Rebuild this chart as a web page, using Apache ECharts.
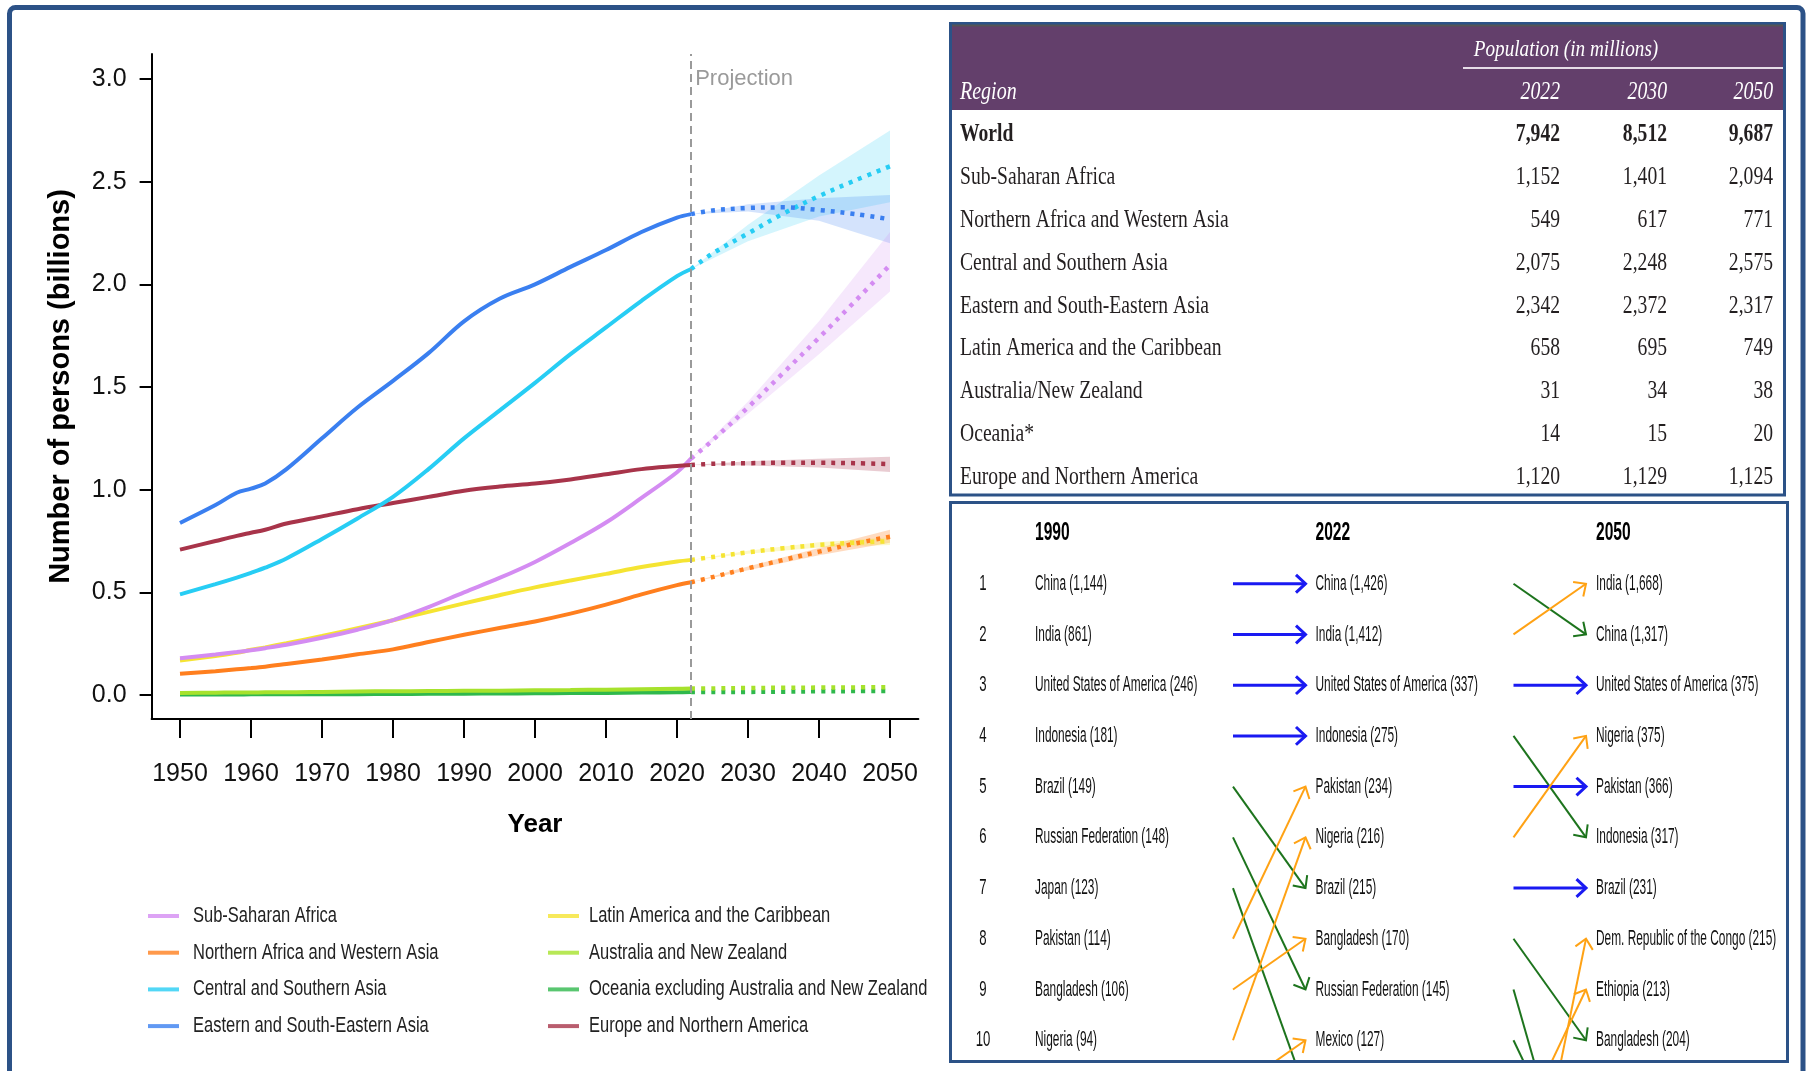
<!DOCTYPE html>
<html><head><meta charset="utf-8">
<script src="https://cdn.jsdelivr.net/npm/echarts@6/dist/echarts.min.js"></script>
<style>html,body{margin:0;padding:0;background:#fff}#c{width:1808px;height:1071px}</style>
</head><body><div id="c"></div>
<script>
// ---------------- Line chart data (billions) ----------------
const histYears = [1950,1955,1958,1960,1962,1965,1970,1975,1980,1985,1990,1995,2000,2005,2010,2015,2020,2022];
const projYears = [2022,2025,2030,2035,2040,2045,2050];
const bandYears = [2022,2030,2040,2050];
const xTicks = [1950,1960,1970,1980,1990,2000,2010,2020,2030,2040,2050];
const yTicks = [0,0.5,1,1.5,2,2.5,3];

const regionNames = ['Sub-Saharan Africa','Northern Africa and Western Asia','Central and Southern Asia','Eastern and South-Eastern Asia','Latin America and the Caribbean','Australia and New Zealand','Oceania excluding Australia and New Zealand','Europe and Northern America'];

const ssaHist  = [0.179,0.197,0.209,0.218,0.228,0.245,0.279,0.318,0.365,0.428,0.500,0.570,0.648,0.740,0.840,0.960,1.085,1.152];
const nawaHist = [0.103,0.116,0.125,0.131,0.138,0.151,0.173,0.198,0.222,0.258,0.293,0.326,0.358,0.396,0.440,0.490,0.535,0.549];
const csaHist  = [0.490,0.540,0.572,0.595,0.620,0.665,0.760,0.860,0.965,1.100,1.250,1.385,1.520,1.660,1.790,1.920,2.040,2.075];
const eseaHist = [0.838,0.925,0.985,1.005,1.030,1.100,1.250,1.400,1.530,1.665,1.820,1.930,2.000,2.085,2.167,2.255,2.325,2.342];
const lacHist  = [0.168,0.190,0.205,0.220,0.232,0.252,0.287,0.325,0.364,0.405,0.446,0.486,0.524,0.558,0.590,0.623,0.650,0.658];
const anzHist  = [0.010,0.011,0.012,0.012,0.013,0.013,0.015,0.017,0.018,0.019,0.020,0.021,0.023,0.024,0.026,0.028,0.030,0.031];
const oceHist  = [0.0023,0.0026,0.0028,0.0030,0.0032,0.0034,0.0036,0.0040,0.0047,0.0055,0.0065,0.0073,0.0081,0.0091,0.0101,0.0115,0.0131,0.014];
const enaHist  = [0.708,0.750,0.775,0.790,0.805,0.835,0.870,0.905,0.935,0.965,0.995,1.015,1.030,1.050,1.075,1.100,1.115,1.120];

const ssaProj  = [1.152,1.240,1.401,1.570,1.740,1.915,2.094];
const nawaProj = [0.549,0.574,0.617,0.658,0.698,0.737,0.771];
const csaProj  = [2.075,2.150,2.248,2.345,2.430,2.505,2.575];
const eseaProj = [2.342,2.360,2.372,2.375,2.362,2.343,2.317];
const lacProj  = [0.658,0.672,0.695,0.715,0.731,0.742,0.749];
const anzProj  = [0.031,0.032,0.034,0.035,0.036,0.037,0.038];
const oceProj  = [0.014,0.0145,0.015,0.016,0.018,0.019,0.020];
const enaProj  = [1.120,1.126,1.129,1.131,1.131,1.129,1.125];

// 95% projection intervals (lower / upper)
const ssaLo  = [1.152,1.370,1.660,1.965];  const ssaHi  = [1.152,1.430,1.820,2.255];
const nawaLo = [0.549,0.608,0.680,0.742];  const nawaHi = [0.549,0.626,0.716,0.805];
const csaLo  = [2.075,2.210,2.330,2.400];  const csaHi  = [2.075,2.290,2.530,2.750];
const eseaLo = [2.342,2.355,2.310,2.200];  const eseaHi = [2.342,2.390,2.420,2.435];
const lacLo  = [0.658,0.688,0.718,0.730];  const lacHi  = [0.658,0.702,0.744,0.768];
const enaLo  = [1.120,1.118,1.108,1.086];  const enaHi  = [1.120,1.138,1.150,1.160];

// ---------------- Table data (millions) ----------------
const tableRegions = ['World','Sub-Saharan Africa','Northern Africa and Western Asia','Central and Southern Asia','Eastern and South-Eastern Asia','Latin America and the Caribbean','Australia/New Zealand','Oceania*','Europe and Northern America'];
const tableYears = ['2022','2030','2050'];
const pop2022 = [7942,1152,549,2075,2342,658,31,14,1120];
const pop2030 = [8512,1401,617,2248,2372,695,34,15,1129];
const pop2050 = [9687,2094,771,2575,2317,749,38,20,1125];

// ---------------- Ranking data ----------------
const rankHeaders = ['1990','2022','2050'];
const rankNumbers = [1,2,3,4,5,6,7,8,9,10];
const rank1990 = ['China (1,144)','India (861)','United States of America (246)','Indonesia (181)','Brazil (149)','Russian Federation (148)','Japan (123)','Pakistan (114)','Bangladesh (106)','Nigeria (94)'];
const rank2022 = ['China (1,426)','India (1,412)','United States of America (337)','Indonesia (275)','Pakistan (234)','Nigeria (216)','Brazil (215)','Bangladesh (170)','Russian Federation (145)','Mexico (127)'];
const rank2050 = ['India (1,668)','China (1,317)','United States of America (375)','Nigeria (375)','Pakistan (366)','Indonesia (317)','Brazil (231)','Dem. Republic of the Congo (215)','Ethiopia (213)','Bangladesh (204)'];
// [rank in earlier year, rank in later year]
const moves1990to2022 = [[1,1],[2,2],[3,3],[4,4],[5,7],[6,9],[7,11],[8,5],[9,8],[10,6],[11,10]];
const moves2022to2050 = [[1,2],[2,1],[3,3],[4,6],[5,5],[6,4],[7,7],[8,10],[9,14],[10,13],[15,8],[12,9]];

// ---------------- Styles ----------------
const regionColors = ['#d48cf2','#ff7f1e','#27cdf4','#3a7ff0','#f5e432','#a6e22c','#2fb84c','#a8344a'];
const SANS = "'Liberation Sans', Arial, sans-serif";
const SERIF = "'Liberation Serif', 'Times New Roman', serif";
const FRAME = '#2c5287';
function rgba(hex, a){
  const n = parseInt(hex.slice(1),16);
  return 'rgba('+((n>>16)&255)+','+((n>>8)&255)+','+(n&255)+','+a+')';
}

const histVals = [ssaHist,nawaHist,csaHist,eseaHist,lacHist,anzHist,oceHist,enaHist];
const projVals = [ssaProj,nawaProj,csaProj,eseaProj,lacProj,anzProj,oceProj,enaProj];
const bands = [
  {idx:2, lo:csaLo,  hi:csaHi,  op:0.2},
  {idx:3, lo:eseaLo, hi:eseaHi, op:0.22},
  {idx:0, lo:ssaLo,  hi:ssaHi,  op:0.2},
  {idx:7, lo:enaLo,  hi:enaHi,  op:0.25},
  {idx:1, lo:nawaLo, hi:nawaHi, op:0.28},
  {idx:4, lo:lacLo,  hi:lacHi,  op:0.25}
];

const series = [];
bands.forEach((b, k) => {
  series.push({type:'custom', name:'band-'+k, coordinateSystem:'cartesian2d', xAxisIndex:0, yAxisIndex:0,
    silent:true, z:1, clip:true,
    data: bandYears.map((y,i)=>[y, b.lo[i], b.hi[i]]),
    renderItem:(params, api) => {
      if (params.dataIndex !== 0) return null;
      const up = bandYears.map((y,i)=>api.coord([y, b.hi[i]]));
      const dn = bandYears.map((y,i)=>api.coord([y, b.lo[i]])).reverse();
      return {type:'polygon', shape:{points: up.concat(dn)}, style:{fill: rgba(regionColors[b.idx], b.op)}};
    }});
});
const drawOrder = [6,5,1,4,0,7,2,3];
drawOrder.forEach(i => {
  series.push({type:'line', name:regionNames[i], color:regionColors[i], symbol:'none', smooth:0.35, z:3,
    data: histYears.map((y,j)=>[y,histVals[i][j]]),
    lineStyle:{color:regionColors[i], width:4}, xAxisIndex:0, yAxisIndex:0});
});
drawOrder.forEach(i => {
  series.push({type:'line', name:regionNames[i], color:regionColors[i], symbol:'none', smooth:0.35, z:3,
    data: projYears.map((y,j)=>[y,projVals[i][j]]),
    lineStyle:{color:regionColors[i], width:4.5, type:[4,6], cap:'butt'}, xAxisIndex:0, yAxisIndex:0});
});
// projection divider + label
series.push({type:'line', name:'proj-marker', data:[], xAxisIndex:0, yAxisIndex:0, silent:true,
  markLine:{silent:true, symbol:['none','none'], label:{show:false},
    lineStyle:{color:'#9a9a9a', width:2, type:[8,5]}, data:[{xAxis:2022}]},
  markPoint:{silent:true, symbol:'circle', symbolSize:0,
    label:{show:true, position:'right', distance:4, formatter:'Projection', color:'#9a9a9a', fontSize:22, fontFamily:SANS},
    data:[{coord:[2022,3.0]}]}
});

// ---------- ranking (custom series on hidden grid) ----------
const rankCols = [rank1990, rank2022, rank2050];
const nameItems = [];
rankCols.forEach((col,c) => col.forEach((t,r) => nameItems.push({c, r:r+1, t})));
function txtStyle(text, font, fill, align){
  return {text, font, fill, align, textAlign:align, verticalAlign:'middle', textVerticalAlign:'middle'};
}
series.push({type:'custom', name:'rank-names', coordinateSystem:'cartesian2d', xAxisIndex:1, yAxisIndex:1, silent:true, z:5,
  data: nameItems.map(d=>[d.c,d.r]),
  renderItem:(params, api) => {
    const p = api.coord([api.value(0), api.value(1)]);
    return {type:'text', x:p[0], y:p[1], scaleX:0.54,
      style:txtStyle(nameItems[params.dataIndex].t, "22px "+SANS, '#111', 'left')};
  }});
series.push({type:'custom', name:'rank-headers', coordinateSystem:'cartesian2d', xAxisIndex:1, yAxisIndex:1, silent:true, z:5,
  data: rankHeaders.map((h,c)=>[c,0]),
  renderItem:(params, api) => {
    const p = api.coord([api.value(0), api.value(1)]);
    return {type:'text', x:p[0], y:p[1], scaleX:0.6,
      style:txtStyle(rankHeaders[params.dataIndex], "bold 26px "+SANS, '#000', 'left')};
  }});
series.push({type:'custom', name:'rank-numbers', coordinateSystem:'cartesian2d', xAxisIndex:1, yAxisIndex:1, silent:true, z:5,
  data: rankNumbers.map(n=>[0,n]),
  renderItem:(params, api) => {
    const p = api.coord([api.value(0), api.value(1)]);
    return {type:'text', x:p[0]-52, y:p[1], scaleX:0.6,
      style:txtStyle(String(rankNumbers[params.dataIndex]), "22px "+SANS, '#111', 'center')};
  }});
const moveItems = [];
moves1990to2022.forEach(m => moveItems.push([0, m[0], m[1]]));
moves2022to2050.forEach(m => moveItems.push([1, m[0], m[1]]));
series.push({type:'custom', name:'rank-arrows', coordinateSystem:'cartesian2d', xAxisIndex:1, yAxisIndex:1, silent:true, z:4, clip:true,
  data: moveItems,
  renderItem:(params, api) => {
    const c = api.value(0), r1 = api.value(1), r2 = api.value(2);
    const a = api.coord([c, r1]), b = api.coord([c+1, r2]);
    const x1 = a[0]+198, y1 = a[1], x2 = b[0]-10, y2 = b[1];
    const col = r1 === r2 ? '#1a1af2' : (r2 > r1 ? '#1d741d' : '#ffa214');
    const lw = r1 === r2 ? 3 : 2;
    const ang = Math.atan2(y2-y1, x2-x1), L = 13, h = 0.75;
    const pts = [[x2 - L*Math.cos(ang-h), y2 - L*Math.sin(ang-h)], [x2,y2], [x2 - L*Math.cos(ang+h), y2 - L*Math.sin(ang+h)]];
    return {type:'group', children:[
      {type:'line', shape:{x1,y1,x2,y2}, style:{stroke:col, lineWidth:lw}},
      {type:'polyline', shape:{points:pts}, style:{stroke:col, lineWidth:lw, fill:null}}
    ]};
  }});

// ---------- graphics: frames, table, legend ----------
const graphics = [];
graphics.push({type:'rect', silent:true, z:0, shape:{x:9.5, y:7.5, width:1793.5, height:1130, r:6}, style:{fill:'none', stroke:FRAME, lineWidth:5}});
graphics.push({type:'rect', silent:true, z:0, shape:{x:950.5, y:23.5, width:834, height:471.5}, style:{fill:'#fff', stroke:FRAME, lineWidth:3}});
graphics.push({type:'rect', silent:true, z:0, shape:{x:952, y:25, width:831, height:85}, style:{fill:'#633f6b'}});
graphics.push({type:'line', silent:true, z:0, shape:{x1:952, y1:25.5, x2:1783, y2:25.5}, style:{stroke:'#555', lineWidth:2}});
graphics.push({type:'line', silent:true, z:0, shape:{x1:1463, y1:68, x2:1783, y2:68}, style:{stroke:'#e6dde8', lineWidth:2}});
graphics.push({type:'rect', silent:true, z:0, shape:{x:950.5, y:502.5, width:837, height:559}, style:{fill:'none', stroke:FRAME, lineWidth:3}});
function ttext(txt, x, y, font, fill, align, sx){
  return {type:'text', silent:true, z:1, x, y, scaleX:sx, style:txtStyle(txt, font, fill, align)};
}
graphics.push(ttext('Population (in millions)', 1566, 50, "italic 24px "+SERIF, '#fff', 'center', 0.8));
graphics.push(ttext('Region', 960, 92, "italic 25px "+SERIF, '#fff', 'left', 0.8));
const colRight = [1560, 1667, 1773];
tableYears.forEach((y,i) => graphics.push(ttext(y, colRight[i], 92, "italic 25px "+SERIF, '#fff', 'right', 0.79)));
const fmt = v => v.toLocaleString('en-US');
tableRegions.forEach((r,i) => {
  const y = 135 + i*42.75;
  const f = (i===0 ? 'bold ' : '') + "25px " + SERIF;
  graphics.push(ttext(r, 960, y, f, '#231f20', 'left', 0.785));
  [pop2022[i], pop2030[i], pop2050[i]].forEach((v,j) => graphics.push(ttext(fmt(v), colRight[j], y, f, '#231f20', 'right', 0.785)));
});
// legend (two columns of four)
const legendIconX = [148, 548], legendTextX = [193, 589];
regionNames.forEach((nm, i) => {
  const col = Math.floor(i/4), row = i%4;
  const y = 916 + row*36.7;
  graphics.push({type:'rect', silent:true, z:1, shape:{x:legendIconX[col], y:y-2, width:31, height:4}, style:{fill:rgba(regionColors[i],0.8)}});
  graphics.push(ttext(nm, legendTextX[col], y, "22px "+SANS, '#222', 'left', 0.75));
});

const axisFont = {fontFamily:SANS, fontSize:25, color:'#111'};
const option = {
  animation:false,
  backgroundColor:'#fff',
  graphic: graphics,
  grid:[
    {left:151.6, right:889.6, top:54, bottom:352, containLabel:false},
    {left:1035, top:533, width:561, height:527, containLabel:false}
  ],
  xAxis:[
    {type:'value', gridIndex:0, min:1946, max:2054,
      axisLine:{show:true, onZero:false, lineStyle:{color:'#000', width:2}},
      axisTick:{show:true, length:19, customValues:xTicks, lineStyle:{color:'#000', width:2}},
      axisLabel:{show:true, customValues:xTicks, margin:43, ...axisFont, formatter:v=>String(v)},
      splitLine:{show:false},
      name:'Year', nameLocation:'middle', nameGap:93,
      nameTextStyle:{fontFamily:SANS, fontSize:26, fontWeight:'bold', color:'#000'}},
    {type:'value', gridIndex:1, min:0, max:2, show:false}
  ],
  yAxis:[
    {type:'value', gridIndex:0, min:-0.117, max:3.122,
      axisLine:{show:true, onZero:false, lineStyle:{color:'#000', width:2}},
      axisTick:{show:true, length:12, customValues:yTicks, lineStyle:{color:'#000', width:2}},
      axisLabel:{show:true, customValues:yTicks, margin:25, ...axisFont, formatter:v=>v.toFixed(1)},
      splitLine:{show:false},
      name:'Number of persons (billions)', nameLocation:'middle', nameGap:76, nameRotate:90,
      nameTextStyle:{fontFamily:SANS, fontSize:29, fontWeight:'bold', color:'#000'}},
    {type:'value', gridIndex:1, min:0, max:10.39, inverse:true, show:false}
  ],
  series
};
const chart = echarts.init(document.getElementById('c'));
chart.setOption(option);
</script>
</body></html>
